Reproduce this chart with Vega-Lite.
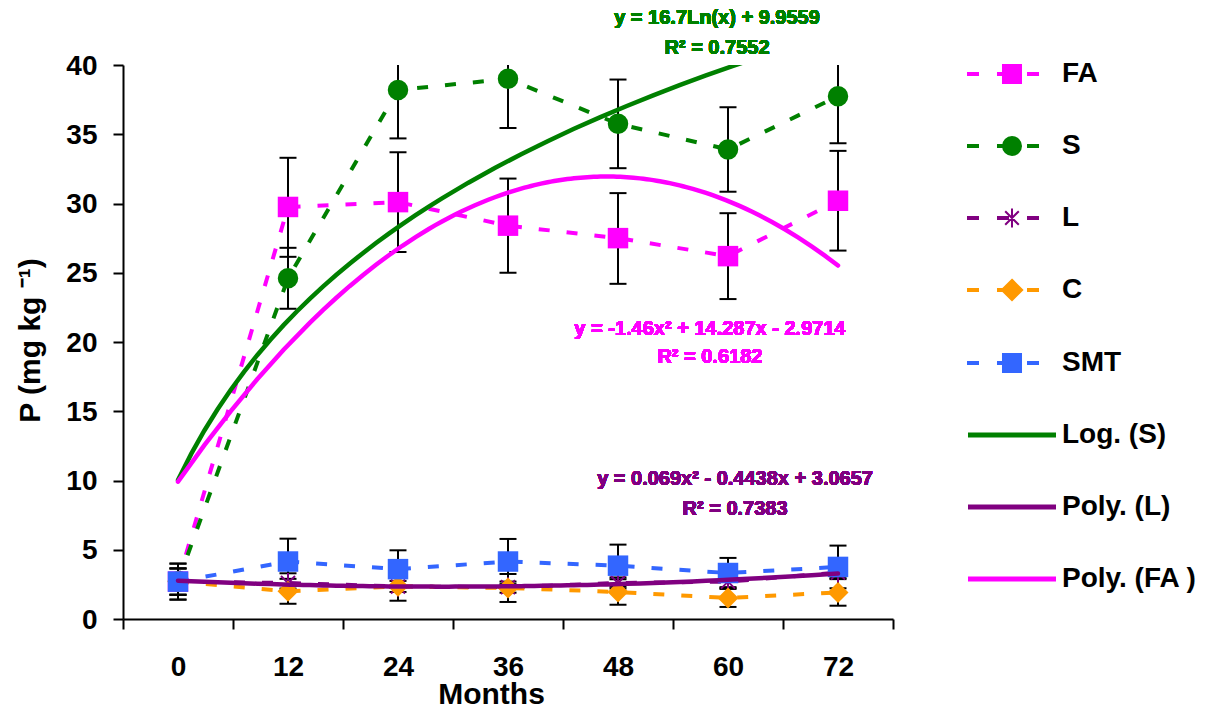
{
  "$schema": "https://vega.github.io/schema/vega-lite/v6.json",
  "width": 770,
  "height": 554,
  "autosize": {"type": "none"},
  "padding": {"left": 123, "top": 65, "right": 324, "bottom": 92},
  "background": "white",
  "config": {
    "view": {"stroke": null},
    "font": "Liberation Sans",
    "axis": {
      "grid": false,
      "domainColor": "black",
      "domainWidth": 2,
      "tickColor": "black",
      "tickWidth": 2,
      "tickSize": 10,
      "labelFont": "Liberation Sans",
      "labelFontSize": 28,
      "labelFontWeight": "bold",
      "labelColor": "black",
      "titleFont": "Liberation Sans",
      "titleFontSize": 30,
      "titleFontWeight": "bold",
      "titleColor": "black"
    }
  },
  "data": {
    "values": [
      {"series": "FA", "t": 1, "v": 2.7, "lo": 1.4, "hi": 4.0},
      {"series": "FA", "t": 2, "v": 29.75, "lo": 26.15, "hi": 33.3},
      {"series": "FA", "t": 3, "v": 30.1, "lo": 26.5, "hi": 33.7},
      {"series": "FA", "t": 4, "v": 28.4, "lo": 25.0, "hi": 31.8},
      {"series": "FA", "t": 5, "v": 27.5, "lo": 24.2, "hi": 30.75},
      {"series": "FA", "t": 6, "v": 26.2, "lo": 23.1, "hi": 29.3},
      {"series": "FA", "t": 7, "v": 30.2, "lo": 26.6, "hi": 33.8},
      {"series": "S", "t": 1, "v": 2.7, "lo": 1.4, "hi": 4.0},
      {"series": "S", "t": 2, "v": 24.6, "lo": 22.4, "hi": 26.8},
      {"series": "S", "t": 3, "v": 38.2, "lo": 34.7, "hi": 41.7},
      {"series": "S", "t": 4, "v": 39.0, "lo": 35.45, "hi": 42.55},
      {"series": "S", "t": 5, "v": 35.75, "lo": 32.55, "hi": 38.95},
      {"series": "S", "t": 6, "v": 33.9, "lo": 30.85, "hi": 36.95},
      {"series": "S", "t": 7, "v": 37.75, "lo": 34.35, "hi": 41.15},
      {"series": "L", "t": 1, "v": 2.7, "lo": 1.75, "hi": 3.65},
      {"series": "L", "t": 2, "v": 2.6, "lo": 2.2, "hi": 3.3},
      {"series": "L", "t": 3, "v": 2.35, "lo": 1.95, "hi": 2.75},
      {"series": "L", "t": 4, "v": 2.3, "lo": 1.9, "hi": 2.7},
      {"series": "L", "t": 5, "v": 2.6, "lo": 2.2, "hi": 3.0},
      {"series": "L", "t": 6, "v": 2.7, "lo": 2.3, "hi": 3.1},
      {"series": "L", "t": 7, "v": 3.35, "lo": 2.95, "hi": 3.75},
      {"series": "C", "t": 1, "v": 2.7, "lo": 1.75, "hi": 3.65},
      {"series": "C", "t": 2, "v": 2.0, "lo": 1.1, "hi": 2.9},
      {"series": "C", "t": 3, "v": 2.36, "lo": 1.32, "hi": 3.4},
      {"series": "C", "t": 4, "v": 2.24, "lo": 1.23, "hi": 3.25},
      {"series": "C", "t": 5, "v": 1.95, "lo": 1.03, "hi": 2.87},
      {"series": "C", "t": 6, "v": 1.52, "lo": 0.87, "hi": 2.17},
      {"series": "C", "t": 7, "v": 1.92, "lo": 0.96, "hi": 2.88},
      {"series": "SMT", "t": 1, "v": 2.7, "lo": 1.75, "hi": 3.65},
      {"series": "SMT", "t": 2, "v": 4.15, "lo": 2.5, "hi": 5.8},
      {"series": "SMT", "t": 3, "v": 3.6, "lo": 2.24, "hi": 4.96},
      {"series": "SMT", "t": 4, "v": 4.15, "lo": 2.52, "hi": 5.78},
      {"series": "SMT", "t": 5, "v": 3.85, "lo": 2.33, "hi": 5.37},
      {"series": "SMT", "t": 6, "v": 3.32, "lo": 2.23, "hi": 4.41},
      {"series": "SMT", "t": 7, "v": 3.76, "lo": 2.22, "hi": 5.3}
    ]
  },
  "encoding": {
    "x": {
      "field": "t",
      "type": "quantitative",
      "scale": {"domain": [0.5, 7.5], "nice": false, "zero": false},
      "axis": {
        "title": "Months",
        "values": [0.5, 1.5, 2.5, 3.5, 4.5, 5.5, 6.5, 7.5],
        "labelOffset": 55,
        "labelPadding": 24,
        "labelOverlap": false,
        "labelBound": false,
        "labelFlush": false,
        "labelExpr": "datum.value > 7 ? '' : format((datum.value - 0.5) * 12, 'd')",
        "titleX": 368,
        "titleY": 84,
        "titleAlign": "center",
        "titleBaseline": "alphabetic"
      }
    },
    "y": {
      "field": "v",
      "type": "quantitative",
      "scale": {"domain": [0, 40], "nice": false},
      "axis": {
        "title": "P (mg kg ⁻¹)",
        "values": [0, 5, 10, 15, 20, 25, 30, 35, 40],
        "labelPadding": 16,
        "labelOffset": 1,
        "titleAngle": 270,
        "titleX": -84,
        "titleY": 275,
        "titleAlign": "center",
        "titleBaseline": "alphabetic"
      }
    }
  },
  "layer": [
    {
      "mark": {"type": "rule", "color": "black", "strokeWidth": 2, "clip": true},
      "encoding": {
        "y": {"field": "lo", "type": "quantitative"},
        "y2": {"field": "hi"}
      }
    },
    {
      "mark": {"type": "tick", "orient": "horizontal", "color": "black", "size": 17, "thickness": 2, "opacity": 1, "clip": true},
      "encoding": {"y": {"field": "lo", "type": "quantitative"}}
    },
    {
      "mark": {"type": "tick", "orient": "horizontal", "color": "black", "size": 17, "thickness": 2, "opacity": 1, "clip": true},
      "encoding": {"y": {"field": "hi", "type": "quantitative"}}
    },
    {
      "mark": {"type": "line", "strokeWidth": 4, "strokeDash": [11, 17], "strokeCap": "butt"},
      "encoding": {
        "color": {
          "field": "series",
          "type": "nominal",
          "scale": {
            "domain": ["FA", "S", "L", "C", "SMT", "Log. (S)", "Poly. (L)", "Poly. (FA )"],
            "range": ["#FF00FF", "#008000", "#800080", "#FF9900", "#3366FF", "#008000", "#800080", "#FF00FF"]
          },
          "legend": {
            "title": null,
            "orient": "none",
            "legendX": 854,
            "legendY": -26,
            "padding": 0,
            "rowPadding": 23,
            "labelOffset": 15,
            "symbolOffset": 0,
            "labelFont": "Liberation Sans",
            "labelFontSize": 28,
            "labelFontWeight": "bold",
            "labelColor": "black",
            "labelLimit": 300,
            "encode": {
              "symbols": {
                "update": {
                  "shape": {"signal": "datum.value === 'FA' || datum.value === 'SMT' ? 'M-1.294,-0.029H-1V0.029H-1.294ZM-0.412,-0.029H-0.118V0.029H-0.412ZM0.471,-0.029H0.765V0.029H0.471ZM-0.265,-0.265H0.265V0.265H-0.265Z' : datum.value === 'S' ? 'M-1.294,-0.029H-1V0.029H-1.294ZM-0.412,-0.029H-0.118V0.029H-0.412ZM0.471,-0.029H0.765V0.029H0.471ZM-0.265,0A0.265,0.265 0 1,1 0.265,0A0.265,0.265 0 1,1 -0.265,0Z' : datum.value === 'L' ? 'M-1.294,-0.029H-1V0.029H-1.294ZM-0.412,-0.029H-0.118V0.029H-0.412ZM0.471,-0.029H0.765V0.029H0.471ZM0,-0.28V0.28M-0.2,-0.2L0.2,0.2M-0.2,0.2L0.2,-0.2' : datum.value === 'C' ? 'M-1.294,-0.029H-1V0.029H-1.294ZM-0.412,-0.029H-0.118V0.029H-0.412ZM0.471,-0.029H0.765V0.029H0.471ZM0,-0.3L0.3,0L0,0.3L-0.3,0Z' : 'M-1.265,-0.045H1.265V0.045H-1.265Z'"},
                  "size": {"value": 4624},
                  "fill": {"scale": "color", "field": "value"},
                  "stroke": {"scale": "color", "field": "value"},
                  "strokeWidth": {"value": 2},
                  "strokeDash": {"value": []},
                  "opacity": {"value": 1}
                }
              }
            }
          }
        }
      }
    },
    {
      "transform": [{"filter": "datum.series === 'FA'"}],
      "mark": {"type": "point", "shape": "square", "filled": true, "size": 420, "opacity": 1},
      "encoding": {"color": {"field": "series", "type": "nominal"}}
    },
    {
      "transform": [{"filter": "datum.series === 'S'"}],
      "mark": {"type": "point", "shape": "circle", "filled": true, "size": 420, "opacity": 1},
      "encoding": {"color": {"field": "series", "type": "nominal"}}
    },
    {
      "transform": [{"filter": "datum.series === 'L'"}],
      "mark": {"type": "point", "shape": "M0,-1V1M-0.7,-0.7L0.7,0.7M-0.7,0.7L0.7,-0.7", "filled": false, "size": 400, "strokeWidth": 2, "opacity": 1},
      "encoding": {"color": {"field": "series", "type": "nominal"}}
    },
    {
      "transform": [{"filter": "datum.series === 'C'"}],
      "mark": {"type": "point", "shape": "diamond", "filled": true, "size": 441, "opacity": 1},
      "encoding": {"color": {"field": "series", "type": "nominal"}}
    },
    {
      "transform": [{"filter": "datum.series === 'SMT'"}],
      "mark": {"type": "point", "shape": "square", "filled": true, "size": 420, "opacity": 1},
      "encoding": {"color": {"field": "series", "type": "nominal"}}
    },
    {
      "transform": [
        {"filter": "datum.series === 'S'"},
        {"regression": "v", "on": "t", "method": "log"}
      ],
      "mark": {"type": "line", "strokeWidth": 4.5, "strokeCap": "round", "clip": true},
      "encoding": {"color": {"datum": "Log. (S)"}}
    },
    {
      "transform": [
        {"filter": "datum.series === 'L'"},
        {"regression": "v", "on": "t", "method": "poly", "order": 2}
      ],
      "mark": {"type": "line", "strokeWidth": 4.5, "strokeCap": "round", "clip": true},
      "encoding": {"color": {"datum": "Poly. (L)"}}
    },
    {
      "transform": [
        {"filter": "datum.series === 'FA'"},
        {"regression": "v", "on": "t", "method": "poly", "order": 2}
      ],
      "mark": {"type": "line", "strokeWidth": 4.5, "strokeCap": "round", "clip": true},
      "encoding": {"color": {"datum": "Poly. (FA )"}}
    },
    {
      "mark": {"type": "text", "text": ["y = 16.7Ln(x) + 9.9559", "R² = 0.7552"], "lineHeight": 30, "align": "center", "baseline": "alphabetic", "font": "Liberation Sans", "fontSize": 20, "fontWeight": "bold", "color": "#008000"},
      "encoding": {"x": {"datum": 5.9}, "y": {"datum": 42.94}}
    },
    {
      "mark": {"type": "text", "text": ["y = -1.46x² + 14.287x - 2.9714", "R² = 0.6182"], "lineHeight": 28.5, "align": "center", "baseline": "alphabetic", "font": "Liberation Sans", "fontSize": 20, "fontWeight": "bold", "color": "#FF00FF"},
      "encoding": {"x": {"datum": 5.836}, "y": {"datum": 20.54}}
    },
    {
      "mark": {"type": "text", "text": ["y = 0.069x² - 0.4438x + 3.0657", "R² = 0.7383"], "lineHeight": 30, "align": "center", "baseline": "alphabetic", "font": "Liberation Sans", "fontSize": 20, "fontWeight": "bold", "color": "#800080"},
      "encoding": {"x": {"datum": 6.064}, "y": {"datum": 9.7}}
    }
  ]
}
